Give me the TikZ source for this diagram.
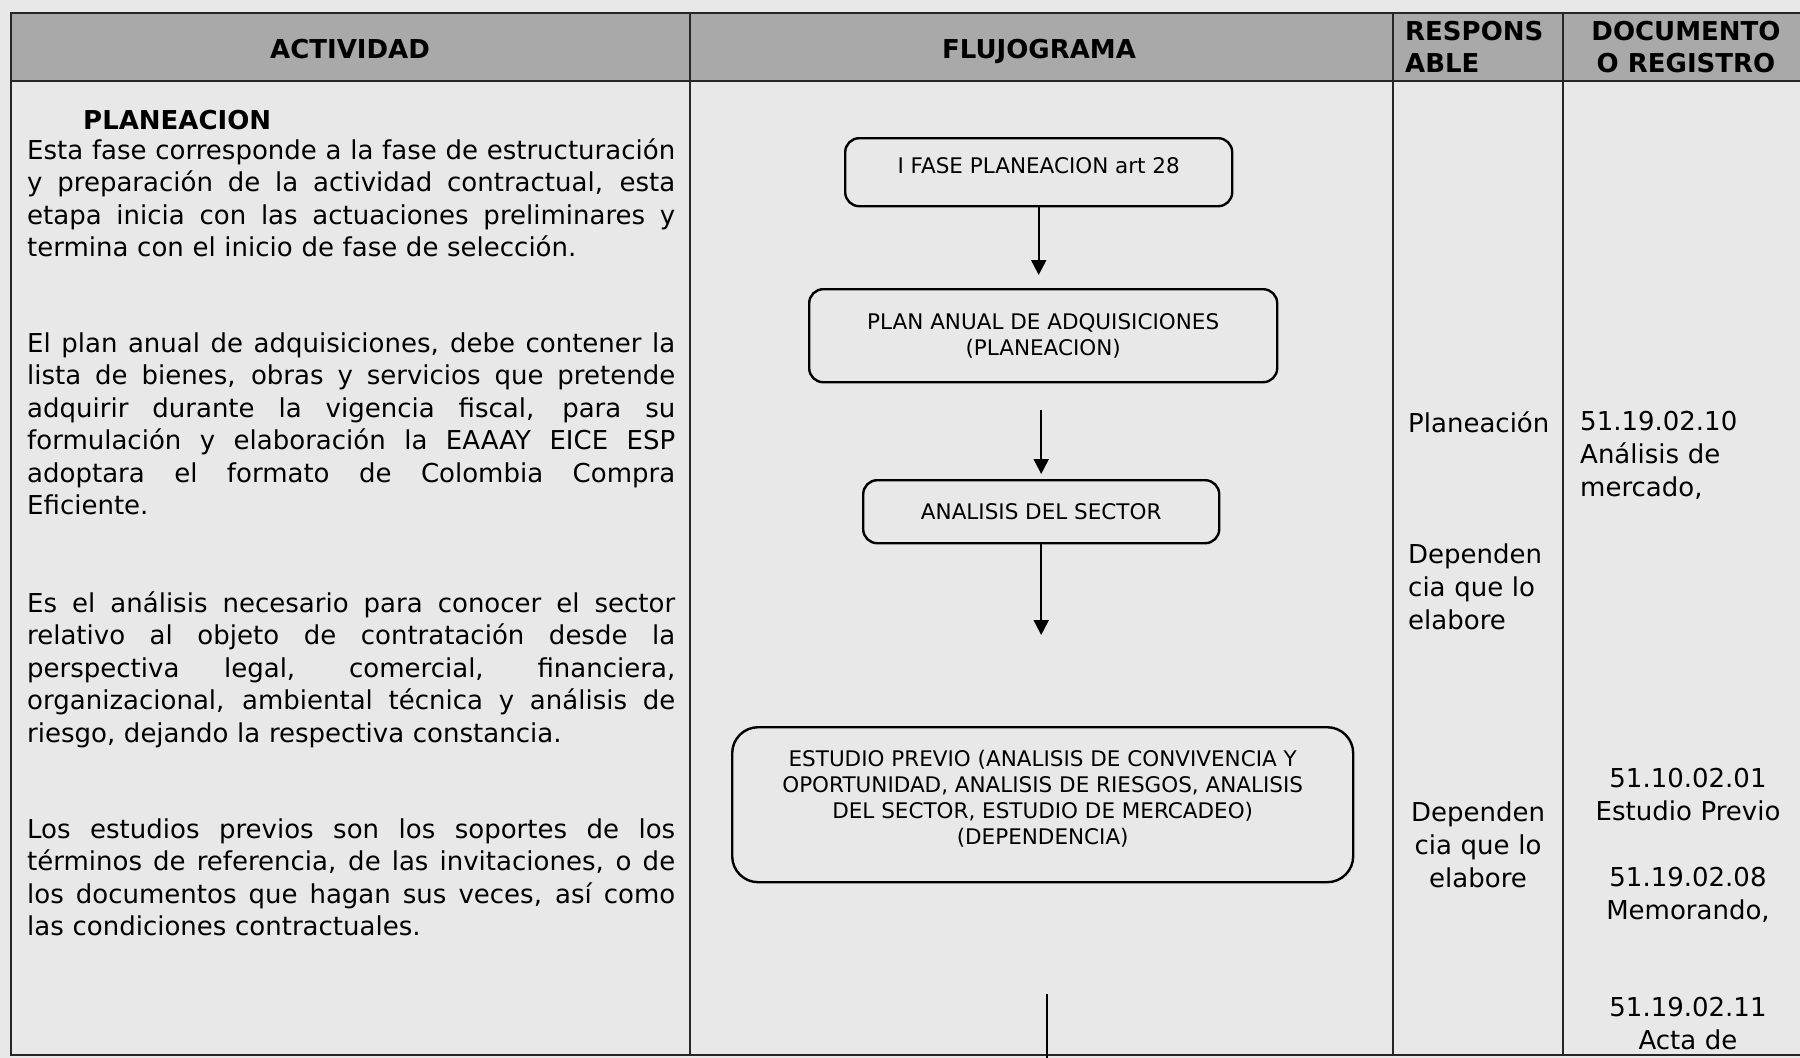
\documentclass[tikz,border=0pt]{standalone}
\usepackage{fontspec}
\setmainfont{DejaVu Sans}
\usetikzlibrary{arrows.meta,positioning,calc}
\definecolor{fondo}{HTML}{E8E8E8}
\definecolor{cabecera}{HTML}{A9A9A9}
\newcommand{\jline}[1]{\makebox[648pt][s]{\spaceskip=0.3em plus 1fil\xspaceskip=\spaceskip #1}}
\tikzset{
  rejilla/.style = {line width=2.8pt, draw=black!85},
  texto/.style = {inner sep=0pt, font=\fontsize{26}{32.5}\selectfont},
  parrafo/.style = {texto, text width=648pt, align=left, anchor=base west},
  celda/.style = {inner sep=0pt, font=\fontsize{26}{33}\selectfont},
  titulo/.style = {inner sep=0pt, font=\bfseries\fontsize{26}{32}\selectfont},
  caja/.style = {draw, rounded corners=14pt, line width=2.4pt, align=center, inner sep=0pt, font=\fontsize{21.5}{26}\selectfont},
  flecha/.style = {-{Triangle[length=15pt,width=15pt]}, line width=2pt},
}

\begin{document}
\begin{tikzpicture}[x=1pt,y=-1pt]
\useasboundingbox (0,0) rectangle (1800,1058);
\fill[fondo] (0,0) rectangle (1800,1058);
\fill[cabecera] (11,13) rectangle (1800,81);

% tabla
\draw[rejilla] (1800,13) -- (11,13) -- (11,1055) -- (1800,1055);
\draw[rejilla] (11,81) -- (1800,81);
\draw[rejilla] (690,13) -- (690,1055);
\draw[rejilla] (1393,13) -- (1393,1055);
\draw[rejilla] (1563,13) -- (1563,1055);

% cabecera
\node[titulo, anchor=base] (hact) at (350,58) {ACTIVIDAD};
\node[titulo, anchor=base] (hflu) at (1039,58) {FLUJOGRAMA};
\node[titulo, align=left, anchor=west] (hres) at (1405,47) {RESPONS\\ABLE};
\node[titulo, align=center] (hdoc) at (1686,47) {DOCUMENTO\\O REGISTRO};

% actividad
\node[titulo, anchor=base west] (tplan) at (83,129) {PLANEACION};
\node[parrafo] (p1) at (27,159) {\jline{Esta fase corresponde a la fase de estructuración}\\
  \jline{y preparación de la actividad contractual, esta}\\
  \jline{etapa inicia con las actuaciones preliminares y}\\
  termina con el inicio de fase de selección.};
\node[parrafo] (p2) at (27,352) {\jline{El plan anual de adquisiciones, debe contener la}\\
  \jline{lista de bienes, obras y servicios que pretende}\\
  \jline{adquirir durante la vigencia fiscal, para su}\\
  \jline{formulación y elaboración la EAAAY EICE ESP}\\
  \jline{adoptara el formato de Colombia Compra}\\
  Eficiente.};
\node[parrafo] (p3) at (27,612) {\jline{Es el análisis necesario para conocer el sector}\\
  \jline{relativo al objeto de contratación desde la}\\
  \jline{perspectiva legal, comercial, financiera,}\\
  \jline{organizacional, ambiental técnica y análisis de}\\
  riesgo, dejando la respectiva constancia.};
\node[parrafo] (p4) at (27,838) {\jline{Los estudios previos son los soportes de los}\\
  \jline{términos de referencia, de las invitaciones, o de}\\
  \jline{los documentos que hagan sus veces, así como}\\
  las condiciones contractuales.};

% flujograma
\node[caja, text depth=14pt, minimum width=387pt, minimum height=68pt, anchor=north west] (fase) at (844,137) {I FASE PLANEACION art 28};
\node[caja, minimum width=468pt, minimum height=93pt, anchor=north west] (plan) at (808,288) {PLAN ANUAL DE ADQUISICIONES\\(PLANEACION)};
\node[caja, minimum width=356pt, minimum height=63pt, anchor=north west] (sector) at (862,479) {ANALISIS DEL SECTOR};
\node[caja, rounded corners=26pt, minimum width=621pt, minimum height=155pt, anchor=north west] (estudio) at (731,726) {ESTUDIO PREVIO (ANALISIS DE CONVIVENCIA Y\\OPORTUNIDAD, ANALISIS DE RIESGOS, ANALISIS\\DEL SECTOR, ESTUDIO DE MERCADEO)\\(DEPENDENCIA)\rule[-14pt]{0pt}{1pt}};
\coordinate (fin) at (1047,1058);

\draw[flecha, shorten >=13pt] (fase.south) -- (fase.south |- plan.north);
\draw[flecha, shorten <=27pt, shorten >=5pt] (sector.north |- plan.south) -- (sector.north);
\draw[flecha, shorten >=91pt] (sector.south) -- (sector.south |- estudio.north);
\draw[line width=2pt, shorten <=111pt] (fin |- estudio.south) -- (fin);

% responsable y documento
\node[celda, anchor=base west] (r1) at (1408,432) {Planeación};
\node[celda, text width=200pt, align=left, anchor=base west] (d1) at (1580,430) {51.19.02.10\\Análisis de\\mercado,};
\node[celda, text width=160pt, align=left, anchor=base west] (r2) at (1408,563) {Dependen\\cia que lo\\elabore};
\node[celda, text width=170pt, align=center, anchor=base] (r3) at (1478,821) {Dependen\\cia que lo\\elabore};
\node[celda, text width=240pt, align=center, anchor=base] (d2) at (1688,787) {51.10.02.01\\Estudio Previo};
\node[celda, text width=240pt, align=center, anchor=base] (d3) at (1688,886) {51.19.02.08\\Memorando,};
\node[celda, text width=240pt, align=center, anchor=base] (d4) at (1688,1016) {51.19.02.11\\Acta de};
\end{tikzpicture}
\end{document}
